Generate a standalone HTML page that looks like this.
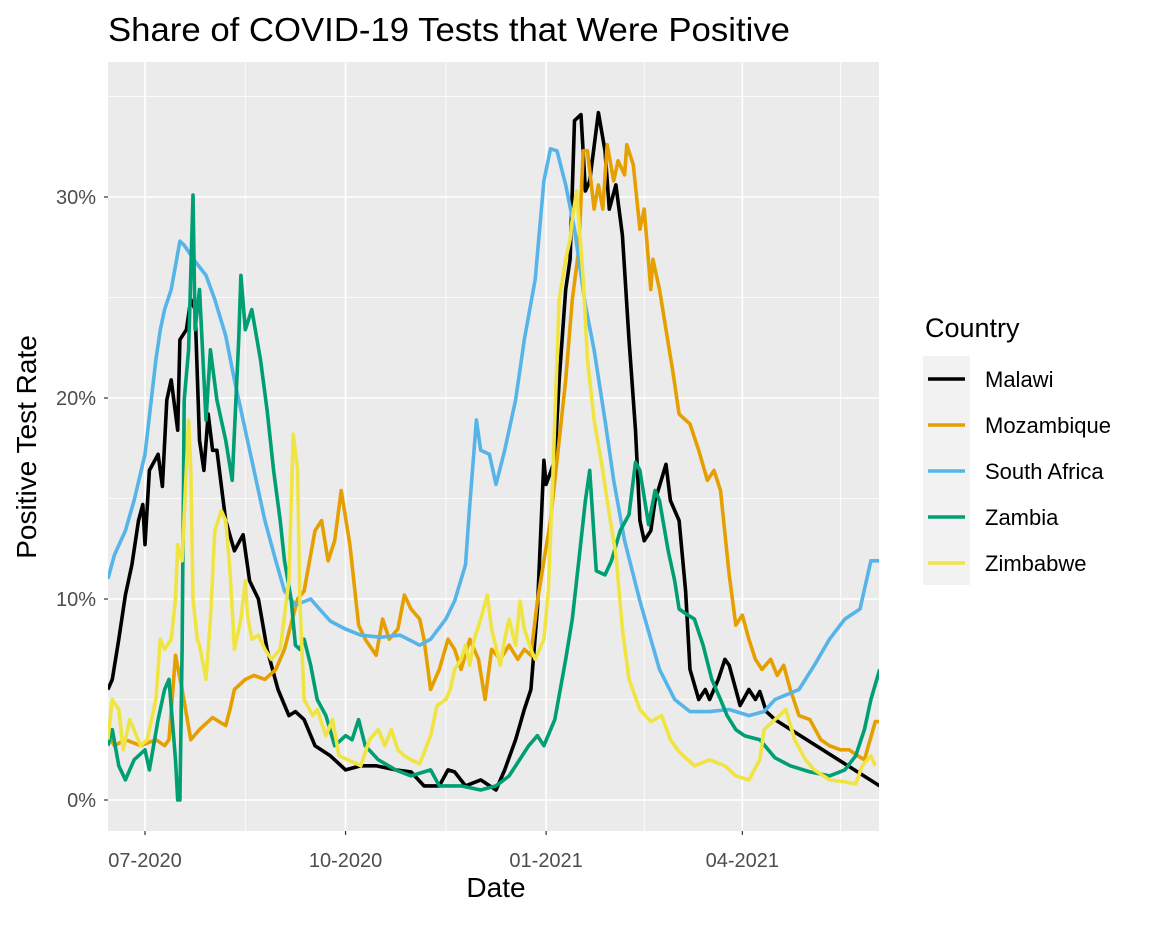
<!DOCTYPE html>
<html><head><meta charset="utf-8"><style>
body{margin:0;background:#fff;font-family:"Liberation Sans",Arial,sans-serif}
svg text{font-family:"Liberation Sans",Arial,sans-serif}
</style></head><body>
<svg id="chart" width="1152" height="921" xmlns="http://www.w3.org/2000/svg">
<text x="108" y="41" font-size="33" textLength="682" lengthAdjust="spacingAndGlyphs" fill="#000">Share of COVID-19 Tests that Were Positive</text>
<rect x="108" y="62" width="771" height="769" fill="#ebebeb"/>
<g id="grid"></g>
<g id="series" clip-path="url(#clip)"></g>
<defs><clipPath id="clip"><rect x="108" y="62" width="771" height="769"/></clipPath></defs>
<g id="axes"></g>
<text x="496" y="897" font-size="28" text-anchor="middle">Date</text>
<text transform="translate(36,447) rotate(-90)" font-size="28" text-anchor="middle">Positive Test Rate</text>
<g id="legend"></g>
</svg>
<script>
// day offsets from 2020-07-01
const xTickDays=[0,92,184,274];
const xTickLabels=["07-2020","10-2020","01-2021","04-2021"];
const yTickValues=[0,10,20,30];
const yTickLabels=["0%","10%","20%","30%"];
const seriesNames=["Malawi","Mozambique","South Africa","Zambia","Zimbabwe"];
const seriesColors=["#000000","#E69F00","#56B4E9","#009E73","#F0E442"];

const malawiDays=[-17,-15,-12,-9,-6,-3,-1,0,2,6,8,10,12,15,16,19,21,23,25,27,29,31,33,37,41,45,48,52,56,61,66,69,73,78,85,92,99,106,115,122,128,135,139,142,147,154,161,165,170,174,177,180,183,184,188,190,193,195,197,200,202,204,208,211,213,216,219,222,225,227,229,232,234,239,241,245,248,250,254,257,259,263,266,268,271,273,277,280,282,285,289,337];
const malawiVals=[5.5,6.0,8.0,10.2,11.7,13.9,14.7,12.7,16.4,17.2,15.6,19.9,20.9,18.4,22.9,23.4,24.9,24.4,17.9,16.4,19.2,17.4,17.4,13.9,12.4,13.2,10.9,10.0,7.5,5.5,4.2,4.4,4.0,2.7,2.2,1.5,1.7,1.7,1.5,1.4,0.7,0.7,1.5,1.4,0.7,1.0,0.5,1.5,3.0,4.5,5.5,9.5,16.9,15.7,16.9,20.9,25.4,26.9,33.8,34.1,30.3,30.8,34.2,32.3,29.4,30.6,28.1,22.9,18.4,13.9,12.9,13.4,14.9,16.7,14.9,13.9,10.4,6.5,5.0,5.5,5.0,6.0,7.0,6.7,5.5,4.7,5.5,5.0,5.4,4.4,4.0,0.7];

const mozDays=[-17,-14,-9,-2,5,9,11,14,17,21,25,31,37,39,41,46,50,55,60,64,70,73,78,81,84,87,90,94,98,101,106,109,112,116,119,122,126,128,131,135,139,142,145,149,153,156,159,163,167,171,174,177,180,183,186,189,193,196,199,201,203,206,208,210,212,215,217,220,221,224,227,229,232,233,236,239,242,245,250,254,258,261,264,268,271,274,277,280,283,287,290,293,296,300,305,310,314,319,323,327,330,335,337];
const mozVals=[3.2,2.7,3.0,2.7,3.0,2.7,3.0,7.2,5.5,3.0,3.5,4.1,3.7,4.5,5.5,6.0,6.2,6.0,6.5,7.5,10.0,10.4,13.4,13.9,11.9,12.9,15.4,12.7,8.7,8.0,7.2,9.0,8.0,8.5,10.2,9.5,9.0,8.0,5.5,6.5,8.0,7.5,6.5,8.0,7.0,5.0,7.5,7.0,7.7,7.0,7.5,7.2,9.9,11.9,13.9,16.9,20.9,24.9,27.4,32.3,32.3,29.4,30.6,29.4,32.6,30.8,31.8,31.1,32.6,31.6,28.4,29.4,25.4,26.9,25.4,23.4,21.4,19.2,18.7,17.4,15.9,16.4,15.4,11.2,8.7,9.2,8.0,7.0,6.5,7.0,6.2,6.7,5.5,4.2,4.0,3.0,2.7,2.5,2.5,2.2,2.0,3.9,3.9];

const rsaDays=[-17,-14,-9,-5,0,5,7,9,12,16,18,23,28,32,37,41,46,50,55,60,64,69,76,80,85,92,99,108,117,126,131,138,142,147,149,152,154,158,161,165,170,174,179,183,186,189,193,197,202,206,211,215,220,227,232,236,243,250,259,268,277,284,289,300,307,314,321,328,333,337];
const rsaVals=[11.0,12.2,13.4,14.9,17.2,21.9,23.4,24.4,25.4,27.8,27.6,26.8,26.1,24.9,23.1,20.9,18.4,16.4,13.9,11.9,10.4,9.7,10.0,9.5,8.9,8.5,8.2,8.1,8.2,7.7,8.0,9.0,9.9,11.7,14.7,18.9,17.4,17.2,15.7,17.4,19.9,22.9,25.9,30.8,32.4,32.3,30.6,28.4,24.6,22.4,18.9,15.9,12.9,9.9,8.0,6.5,5.0,4.4,4.4,4.5,4.2,4.4,5.0,5.5,6.7,8.0,9.0,9.5,11.9,11.9];

const zamDays=[-17,-15,-12,-9,-5,0,2,6,9,11,14,15,16,17,18,20,22,23,25,28,30,33,37,40,43,44,46,49,53,56,59,62,64,67,69,71,73,76,79,83,87,92,95,98,101,107,115,122,131,135,145,154,161,167,176,180,183,188,193,196,199,202,204,207,211,214,218,222,225,227,231,234,236,240,243,245,249,252,256,260,264,267,271,275,282,289,296,305,314,321,326,330,333,337];
const zamVals=[2.7,3.5,1.7,1.0,2.0,2.5,1.5,4.0,5.5,6.0,2.0,0,0,7.5,19.9,22.4,30.1,23.4,25.4,18.9,22.4,19.9,17.9,15.9,22.9,26.1,23.4,24.4,21.9,19.4,16.4,13.9,11.9,10.0,7.7,7.5,8.0,6.7,5.0,4.2,2.7,3.2,3.0,4.0,2.7,2.0,1.5,1.2,1.5,0.7,0.7,0.5,0.7,1.2,2.7,3.2,2.7,4.0,7.0,9.0,11.9,14.9,16.4,11.4,11.2,11.9,13.4,14.2,16.8,16.4,13.7,15.4,14.9,12.4,10.9,9.5,9.2,9.0,7.7,6.0,5.0,4.2,3.5,3.2,3.0,2.1,1.7,1.4,1.2,1.5,2.2,3.5,5.0,6.5];

const zimDays=[-17,-15,-12,-10,-7,-2,1,5,7,9,12,14,15,17,20,21,22,24,25,28,30,32,35,37,39,41,44,46,47,49,52,55,58,62,66,68,70,71,73,77,79,83,86,89,93,99,103,107,110,113,116,119,122,126,131,134,138,140,142,145,147,149,151,154,157,159,163,165,167,170,172,174,177,179,183,185,187,188,190,193,195,196,198,201,203,206,210,212,216,219,222,227,232,237,241,245,252,259,266,271,277,282,284,289,294,298,303,307,314,321,326,329,333,335];
const zimVals=[3.0,5.0,4.5,2.5,4.0,2.7,3.0,5.0,8.0,7.5,8.0,10.0,12.7,11.9,18.9,16.4,10.0,8.0,7.7,6.0,9.0,13.4,14.4,13.9,11.4,7.5,9.0,10.9,9.2,8.0,8.2,7.5,7.0,7.5,10.9,18.2,16.4,10.0,5.0,4.2,4.5,3.2,4.0,2.2,2.0,1.7,3.0,3.5,2.7,3.5,2.5,2.2,2.0,1.8,3.2,4.7,5.0,5.5,6.5,7.0,7.7,6.7,8.0,9.0,10.2,8.5,6.7,8.0,9.0,7.7,9.9,8.5,7.5,7.0,8.0,10.4,15.9,18.9,24.9,26.9,27.9,28.9,30.3,25.9,21.9,18.9,16.4,14.9,12.2,8.5,6.0,4.5,3.9,4.2,3.0,2.4,1.7,2.0,1.7,1.2,1.0,2.0,3.5,4.0,4.5,3.0,2.0,1.5,1.0,0.9,0.8,1.7,2.2,1.7];

const allDays=[malawiDays,mozDays,rsaDays,zamDays,zimDays];
const allVals=[malawiVals,mozVals,rsaVals,zamVals,zimVals];

const X0=145, PXD=2.18, Y0=800, PXP=20.1, L=108, R=879, T=62, B=831;
function xs(d){return X0+d*PXD;}
function ys(v){return Y0-v*PXP;}
const NS="http://www.w3.org/2000/svg";
function mk(tag,attrs,parent){const e=document.createElementNS(NS,tag);for(const k in attrs)e.setAttribute(k,attrs[k]);parent.appendChild(e);return e;}
const grid=document.getElementById('grid'), axes=document.getElementById('axes'), ser=document.getElementById('series'), leg=document.getElementById('legend');

for(let i=0;i<yTickValues.length;i++){
  const v=yTickValues[i]+5;
  const g=mk('line',{x1:L,x2:R,y1:ys(v),y2:ys(v),stroke:'#fff','stroke-width':0.8},grid);
  
  
}
for(let i=0;i<xTickDays.length;i++){
  const d=xTickDays[i]+(i<xTickDays.length-1?(xTickDays[i+1]-xTickDays[i])/2:45);
  const g=mk('line',{x1:xs(d),x2:xs(d),y1:T,y2:B,stroke:'#fff','stroke-width':0.8},grid);
  
  
}
for(let i=0;i<yTickValues.length;i++){
  const y=ys(yTickValues[i]);
  const g=mk('line',{x1:L,x2:R,y1:y,y2:y,stroke:'#fff','stroke-width':1.6},grid);
  
  
  const t=mk('line',{x1:L-4,x2:L,y1:y,y2:y,stroke:'#333','stroke-width':1.2},axes);
  
  
  const lb=mk('text',{x:L-12,y:y+7,'font-size':20,fill:'#4d4d4d','text-anchor':'end'},axes);
  lb.textContent=yTickLabels[i];
  
  
}
for(let i=0;i<xTickDays.length;i++){
  const x=xs(xTickDays[i]);
  const g=mk('line',{x1:x,x2:x,y1:T,y2:B,stroke:'#fff','stroke-width':1.6},grid);
  
  
  const t=mk('line',{x1:x,x2:x,y1:B,y2:B+4,stroke:'#333','stroke-width':1.2},axes);
  
  
  const lb=mk('text',{x:x,y:B+36,'font-size':20,fill:'#4d4d4d','text-anchor':'middle'},axes);
  lb.textContent=xTickLabels[i];
  
  
}
for(let s=0;s<seriesNames.length;s++){
  const pts=allDays[s].map((d,i)=>xs(d).toFixed(1)+','+ys(allVals[s][i]).toFixed(1)).join(' ');
  const p=mk('polyline',{points:pts,fill:'none',stroke:seriesColors[s],'stroke-width':3.6,'stroke-linejoin':'round'},ser);
  
  
}
const lt=mk('text',{x:925,y:337,'font-size':27},leg);
lt.textContent='Country';


const lbg=mk('rect',{x:923,y:356,width:47,height:229,fill:'#f2f2f2'},leg);


for(let s=0;s<seriesNames.length;s++){
  const y=379+s*46;
  const g=mk('g',{},leg);
  
  
  mk('line',{x1:928,x2:965,y1:y,y2:y,stroke:seriesColors[s],'stroke-width':3.6},g);
  const t=mk('text',{x:985,y:y+8,'font-size':22},g);
  t.textContent=seriesNames[s];
}
</script>
</body></html>
